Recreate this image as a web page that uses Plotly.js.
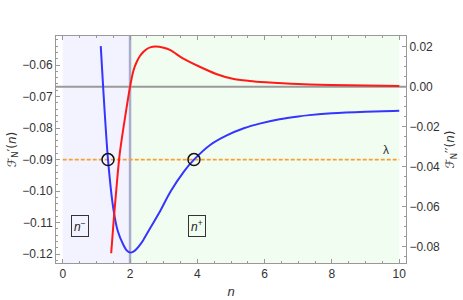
<!DOCTYPE html>
<html><head><meta charset="utf-8">
<script src="https://cdn.plot.ly/plotly-3.0.1.min.js"></script>
<style>html,body{margin:0;padding:0;background:#fff}#c{width:463px;height:300px}</style>
</head><body><div id="c"></div>
<script>
// Blue curve F_N'(n) on left axis
var n_blue = [1.13,1.2,1.345,1.51,1.64,1.8,1.9,2.0,2.1,2.2,2.3,2.4,2.6,2.88,3.2,3.6,3.9,4.4,4.86,5.4,5.85,6.44,7.0,7.33,8.0,9.0,10.0];
var f_blue = [-0.0540,-0.0669,-0.0900,-0.1060,-0.1128,-0.1170,-0.1188,-0.1195,-0.1192,-0.1183,-0.1170,-0.1154,-0.1117,-0.1066,-0.1002,-0.0938,-0.0900,-0.0852,-0.0824,-0.0800,-0.0786,-0.0772,-0.0763,-0.0759,-0.0753,-0.0748,-0.0745];
// Red curve F_N''(n) on right axis
var n_red = [1.44,1.5,1.54,1.6,1.69,1.8,1.9,2.0,2.1,2.2,2.3,2.4,2.5,2.6,2.75,3.0,3.2,3.57,4.07,4.56,5.05,5.55,6.04,6.54,7.33,8.5,10];
var f_red = [-0.0833,-0.0700,-0.0617,-0.0500,-0.0340,-0.0210,-0.0102,0,0.0080,0.0125,0.0155,0.0175,0.0189,0.0197,0.0201,0.0195,0.0183,0.0142,0.0100,0.0064,0.0040,0.0029,0.0022,0.0017,0.0011,0.0007,0.0004];
// lambda level and intersection points
var lambda = -0.09;
var lambda_x = [0, 10];
var cross_n = [1.345, 3.9];
var n_split = 2;
var region_labels = ['<i>n</i><sup>−</sup>', '<i>n</i><sup>+</sup>'];
var region_label_n = [0.5, 4.0];
var region_label_y = -0.111;

var tickFont = {family:'Liberation Sans, Arial, sans-serif', size:12, color:'#333'};
var titleFont = {family:'DejaVu Sans, Liberation Sans, sans-serif', size:12, color:'#333'};

var traces = [
  {x: lambda_x, y: [lambda, lambda], mode:'lines', line:{color:'#f5a030', width:1.8, dash:'4px,2px'}, yaxis:'y', hoverinfo:'skip'},
  {x: n_blue, y: f_blue, mode:'lines', line:{color:'#3535ff', width:2, shape:'spline', smoothing:0.8}, yaxis:'y'},
  {x: n_red, y: f_red, mode:'lines', line:{color:'#ff1a1a', width:2, shape:'spline', smoothing:0.8}, yaxis:'y2'},
  {x: cross_n, y: [lambda, lambda], mode:'markers', marker:{symbol:'circle', size:12, color:'rgba(0,0,0,0)', line:{color:'#111', width:1.5}}, yaxis:'y'}
];

var layout = {
  width:463, height:300,
  margin:{l:56, r:57, t:36, b:37},
  paper_bgcolor:'#fff', plot_bgcolor:'#fff',
  showlegend:false,
  font: tickFont,
  xaxis:{range:[-0.2,10.2], dtick:2, tick0:0, ticks:'inside', ticklen:4, tickcolor:'#999', showline:true, linecolor:'#999', linewidth:1, mirror:'ticks', showgrid:false, zeroline:false, tickfont:tickFont,
    minor:{dtick:0.5, ticks:'inside', ticklen:2, tickcolor:'#999', showgrid:false},
    title:{text:'<i>n</i>', font:{family:'Liberation Sans, Arial, sans-serif', size:13, color:'#333'}, standoff:6}},
  yaxis:{range:[-0.1228,-0.0508], dtick:0.01, tick0:0, tickformat:'.2f', ticks:'inside', ticklen:4, tickcolor:'#999', showline:true, linecolor:'#999', linewidth:1, showgrid:false, zeroline:false, tickfont:tickFont,
    minor:{dtick:0.002, ticks:'inside', ticklen:2, tickcolor:'#999', showgrid:false},
    title:{text:'ℱ<sub>N</sub>′(<i>n</i>)', font:titleFont, standoff:3}},
  yaxis2:{overlaying:'y', side:'right', range:[-0.0882,0.0254], dtick:0.02, tick0:0, tickformat:'.2f', ticks:'inside', ticklen:4, tickcolor:'#999', showline:true, linecolor:'#999', linewidth:1, showgrid:false, zeroline:false, tickfont:tickFont,
    minor:{dtick:0.005, ticks:'inside', ticklen:2, tickcolor:'#999', showgrid:false},
    title:{text:'ℱ<sub>N</sub>′′(<i>n</i>)', font:titleFont, standoff:6}},
  shapes:[
    {type:'rect', xref:'x', yref:'paper', x0:0, x1:n_split, y0:0, y1:1, fillcolor:'#f3f3ff', line:{width:0}, layer:'below'},
    {type:'rect', xref:'x', yref:'paper', x0:n_split, x1:10, y0:0, y1:1, fillcolor:'#f1fdf1', line:{width:0}, layer:'below'},
    {type:'line', xref:'paper', yref:'y2', x0:0, x1:1, y0:0, y1:0, line:{color:'#9a9a9a', width:2}, layer:'below'},
    {type:'line', xref:'x', yref:'paper', x0:n_split, x1:n_split, y0:0, y1:1, line:{color:'#a9adcb', width:2.5}, layer:'below'}
  ],
  annotations:[
    {x:region_label_n[0], y:region_label_y, xref:'x', yref:'y', text:region_labels[0], showarrow:false, bordercolor:'#333', borderwidth:1, borderpad:2, font:{family:'Liberation Sans, Arial, sans-serif', size:12, color:'#222'}},
    {x:region_label_n[1], y:region_label_y, xref:'x', yref:'y', text:region_labels[1], showarrow:false, bordercolor:'#333', borderwidth:1, borderpad:2, font:{family:'Liberation Sans, Arial, sans-serif', size:12, color:'#222'}},
    {x:9.6, y:lambda, xref:'x', yref:'y', yanchor:'bottom', yshift:1, text:'λ', showarrow:false, font:{family:'Liberation Sans, Arial, sans-serif', size:12, color:'#333'}}
  ]
};
Plotly.newPlot('c', traces, layout, {displayModeBar:false, staticPlot:true});
</script></body></html>
